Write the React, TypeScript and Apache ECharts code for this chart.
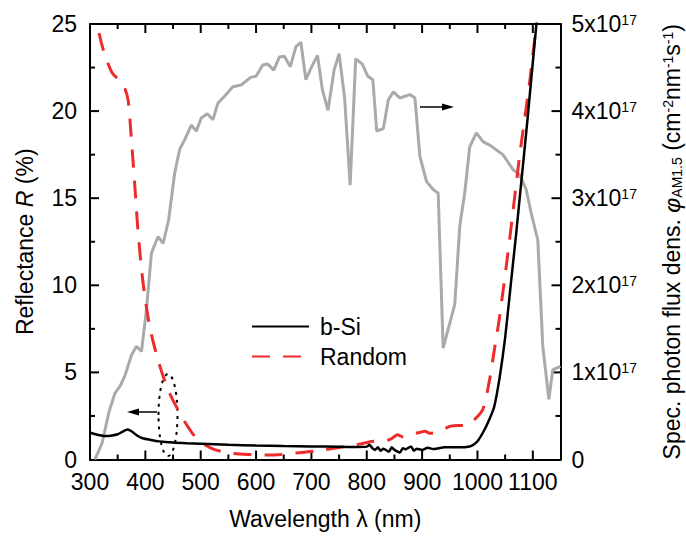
import React, { useEffect, useRef } from "react";
import * as echarts from "echarts";

// b-Si reflectance (left axis, %)
const bSiWavelength = [300, 310, 320, 330, 340, 350, 360, 368, 375, 385, 395, 410, 425, 450, 475, 500, 550, 600, 650, 700, 750, 780, 800, 805, 810, 815, 820, 825, 830, 840, 845, 850, 860, 865, 870, 880, 885, 890, 900, 910, 920, 930, 940, 960, 980, 990, 1000, 1010, 1020, 1030, 1040, 1050, 1060, 1070, 1080, 1090, 1100, 1110];
const bSiReflectance = [1.55, 1.45, 1.38, 1.35, 1.38, 1.45, 1.62, 1.72, 1.62, 1.38, 1.22, 1.12, 1.04, 0.97, 0.93, 0.9, 0.84, 0.8, 0.77, 0.75, 0.73, 0.72, 0.74, 0.85, 0.65, 0.55, 0.7, 0.5, 0.62, 0.45, 0.7, 0.55, 0.4, 0.65, 0.58, 0.75, 0.5, 0.62, 0.55, 0.68, 0.6, 0.65, 0.7, 0.7, 0.72, 0.8, 1.05, 1.55, 2.2, 3.0, 4.7, 7.0, 10.0, 13.0, 16.2, 19.4, 22.8, 26.2];

// Random-textured reflectance (left axis, %)
const randomWavelength = [300, 313, 325, 340, 355, 363, 369, 375, 381, 387, 396, 408, 423, 441, 465, 489, 510, 525, 550, 585, 620, 645, 675, 705, 735, 765, 790, 812, 830, 845, 855, 865, 880, 895, 905, 915, 930, 950, 965, 980, 995, 1010, 1022, 1030, 1040, 1058, 1076, 1094, 1106, 1115];
const randomReflectance = [28, 25, 23.4, 22.2, 21.7, 21.3, 20.6, 18.3, 15.7, 13, 10.1, 7.6, 5.7, 4.0, 2.5, 1.34, 0.8, 0.57, 0.38, 0.29, 0.26, 0.29, 0.38, 0.48, 0.62, 0.76, 0.9, 1.05, 1.05, 1.2, 1.42, 1.3, 1.45, 1.55, 1.62, 1.5, 1.6, 1.9, 1.95, 1.95, 2.3, 2.9, 4.6, 6.2, 8.2, 12.6, 17.4, 21.6, 24.85, 27];

// AM1.5 spectral photon flux density (right axis, x10^17 cm^-2 nm^-1 s^-1)
const fluxWavelength = [309, 322, 334, 345, 355, 363, 375, 384, 393, 402, 411, 423, 432, 442, 453, 462, 471, 483, 492, 501, 512, 522, 531, 543, 558, 573, 591, 600, 612, 621, 632, 642, 651, 662, 672, 681, 690, 699, 711, 720, 730, 741, 750, 760, 770, 780, 792, 802, 811, 818, 830, 839, 848, 860, 878, 887, 896, 908, 920, 929, 938, 959, 968, 977, 986, 998, 1010, 1022, 1046, 1064, 1076, 1088, 1097, 1109, 1118, 1129, 1136, 1150];
const fluxE17 = [0, 0.19, 0.54, 0.76, 0.85, 0.96, 1.2, 1.3, 1.24, 1.72, 2.37, 2.56, 2.48, 2.75, 3.29, 3.56, 3.67, 3.84, 3.77, 3.92, 3.97, 3.9, 4.09, 4.17, 4.28, 4.3, 4.39, 4.4, 4.53, 4.54, 4.47, 4.62, 4.63, 4.51, 4.74, 4.79, 4.36, 4.49, 4.64, 4.24, 4.01, 4.47, 4.66, 4.15, 3.15, 4.6, 4.54, 4.4, 4.36, 3.77, 3.8, 4.13, 4.22, 4.15, 4.19, 4.15, 3.48, 3.19, 3.1, 3.06, 1.28, 1.78, 2.68, 3.06, 3.59, 3.75, 3.65, 3.61, 3.5, 3.33, 3.27, 3.1, 2.83, 2.52, 1.3, 0.69, 1.03, 1.07];

// inward tick positions (wavelength in nm, reflectance in %; right axis shares the left axis' positions)
const xMajorTicks = [400, 500, 600, 700, 800, 900, 1000, 1100];
const xMinorTicks = [350, 450, 550, 650, 750, 850, 950, 1050];
const yMajorTicks = [5, 10, 15, 20];
const yMinorTicks = [2.5, 7.5, 12.5, 17.5, 22.5];

const seriesNames = ["b-Si", "Random", "AM1.5"];

const FONT = "'Liberation Sans', Arial, sans-serif";
const FS = 23;
const MAJOR_LEN = 9;
const MINOR_LEN = 5;

const W = 686;
const H = 542;
const GRID = { left: 90, right: 125.5, top: 24, bottom: 82.5 };
const X_MIN = 300;
const X_MAX = 1150;
const Y_MIN = 0;
const Y_MAX = 25;

const pairs = (xs: number[], ys: number[]) => xs.map((x, i) => [x, ys[i]]);

const axisLineStyle = () => ({ show: true, onZero: false, lineStyle: { color: "#000", width: 2 } });
const noTicks = () => ({ show: false });

const annotations: any[] = [
  { type: "line", shape: { x1: 157, y1: 412, x2: 137, y2: 412 }, style: { stroke: "#000", lineWidth: 1.5 } },
  { type: "polygon", shape: { points: [[127, 412], [139, 408.5], [139, 415.5]] }, style: { fill: "#000" } },
  {
    type: "ellipse",
    shape: { cx: 168, cy: 415, rx: 9.5, ry: 41 },
    style: { fill: "none", stroke: "#000", lineWidth: 2, lineDash: [3, 5] },
  },
  { type: "line", shape: { x1: 420, y1: 107, x2: 444, y2: 107 }, style: { stroke: "#000", lineWidth: 1.5 } },
  { type: "polygon", shape: { points: [[454, 107], [442, 103.5], [442, 110.5]] }, style: { fill: "#000" } },
];

// inward ticks on all four sides, mapped with the same linear scale as the grid's axes
function buildTicks(): any[] {
  const left = GRID.left;
  const right = W - GRID.right;
  const top = GRID.top;
  const bottom = H - GRID.bottom;
  const toX = (v: number) => left + ((v - X_MIN) / (X_MAX - X_MIN)) * (right - left);
  const toY = (v: number) => bottom - ((v - Y_MIN) / (Y_MAX - Y_MIN)) * (bottom - top);
  const style = { stroke: "#000", lineWidth: 2 };
  const out: any[] = [];
  const addX = (v: number, len: number) => {
    const x = toX(v);
    out.push({ type: "line", shape: { x1: x, y1: bottom, x2: x, y2: bottom - len }, style });
    out.push({ type: "line", shape: { x1: x, y1: top, x2: x, y2: top + len }, style });
  };
  const addY = (v: number, len: number) => {
    const y = toY(v);
    out.push({ type: "line", shape: { x1: left, y1: y, x2: left + len, y2: y }, style });
    out.push({ type: "line", shape: { x1: right, y1: y, x2: right - len, y2: y }, style });
  };
  xMajorTicks.forEach((v) => addX(v, MAJOR_LEN));
  xMinorTicks.forEach((v) => addX(v, MINOR_LEN));
  yMajorTicks.forEach((v) => addY(v, MAJOR_LEN));
  yMinorTicks.forEach((v) => addY(v, MINOR_LEN));
  return out;
}

export default function App() {
  const ref = useRef<HTMLDivElement>(null);
  useEffect(() => {
    if (!ref.current) return;
    const chart = echarts.init(ref.current, null, { renderer: "svg" });
    const option: any = {
      animation: false,
      backgroundColor: "#fff",
      textStyle: { fontFamily: FONT, color: "#000" },
      grid: {
        show: false,
        left: GRID.left,
        right: GRID.right,
        top: GRID.top,
        bottom: GRID.bottom,
        containLabel: false,
        outerBoundsMode: "none",
      },
      legend: {
        data: [seriesNames[0], seriesNames[1]],
        orient: "vertical",
        left: 246,
        top: 310,
        itemWidth: 57,
        itemHeight: 14,
        itemGap: 7,
        itemStyle: { opacity: 0 },
        textStyle: { fontSize: FS, color: "#000", fontFamily: FONT, padding: [0, 0, 0, 6] },
      },
      xAxis: [
        {
          type: "value",
          min: X_MIN,
          max: X_MAX,
          interval: 100,
          position: "bottom",
          name: "Wavelength λ (nm)",
          nameLocation: "middle",
          nameGap: 48,
          nameTextStyle: { fontSize: FS, color: "#000", fontFamily: FONT },
          axisLine: axisLineStyle(),
          axisTick: noTicks(),
          minorTick: noTicks(),
          splitLine: { show: false },
          axisLabel: {
            show: true,
            fontSize: FS,
            color: "#000",
            fontFamily: FONT,
            margin: 11,
            showMaxLabel: false,
            formatter: (v: number) => String(v),
          },
        },
        {
          type: "value",
          min: X_MIN,
          max: X_MAX,
          interval: 100,
          position: "top",
          axisLine: axisLineStyle(),
          axisTick: noTicks(),
          minorTick: noTicks(),
          splitLine: { show: false },
          axisLabel: { show: false },
        },
      ],
      yAxis: [
        {
          type: "value",
          min: Y_MIN,
          max: Y_MAX,
          interval: 5,
          position: "left",
          name: "Reflectance {i|R} (%)",
          nameLocation: "middle",
          nameRotate: 90,
          nameGap: 54,
          nameTextStyle: {
            fontSize: FS,
            color: "#000",
            fontFamily: FONT,
            rich: { i: { fontStyle: "italic", fontSize: FS, fontFamily: FONT, color: "#000" } },
          },
          axisLine: axisLineStyle(),
          axisTick: noTicks(),
          minorTick: noTicks(),
          splitLine: { show: false },
          axisLabel: { show: true, fontSize: FS, color: "#000", fontFamily: FONT, margin: 13 },
        },
        {
          type: "value",
          min: 0,
          max: 5,
          interval: 1,
          position: "right",
          name: "Spec. photon flux dens. {i|φ}{sub|AM1.5} (cm{sup|-2}nm{sup|-1}s{sup|-1})",
          nameLocation: "middle",
          nameRotate: 90,
          nameGap: 100,
          nameTextStyle: {
            fontSize: FS,
            color: "#000",
            fontFamily: FONT,
            rich: {
              i: { fontStyle: "italic", fontSize: FS, fontFamily: FONT, color: "#000" },
              sub: { fontSize: 14, fontFamily: FONT, color: "#000", verticalAlign: "bottom" },
              sup: { fontSize: 14, fontFamily: FONT, color: "#000", verticalAlign: "top" },
            },
          },
          axisLine: axisLineStyle(),
          axisTick: noTicks(),
          minorTick: noTicks(),
          splitLine: { show: false },
          axisLabel: {
            show: true,
            fontSize: FS,
            color: "#000",
            fontFamily: FONT,
            margin: 11,
            formatter: (v: number) => (v === 0 ? "0" : `{m|${v}x10}{s|17}`),
            rich: {
              m: { fontSize: FS, fontFamily: FONT, color: "#000" },
              s: { fontSize: 14, fontFamily: FONT, color: "#000", verticalAlign: "top" },
            },
          },
        },
      ],
      series: [
        {
          name: seriesNames[2],
          type: "line",
          xAxisIndex: 0,
          yAxisIndex: 1,
          data: pairs(fluxWavelength, fluxE17),
          symbol: "none",
          showSymbol: false,
          lineStyle: { color: "#aaaaaa", width: 3 },
          itemStyle: { color: "#aaaaaa" },
          z: 1,
        },
        {
          name: seriesNames[1],
          type: "line",
          xAxisIndex: 0,
          yAxisIndex: 0,
          data: pairs(randomWavelength, randomReflectance),
          symbol: "none",
          showSymbol: false,
          smooth: 0.25,
          lineStyle: { color: "#ee2b2b", width: 3, type: [18, 13] },
          itemStyle: { color: "#ee2b2b" },
          z: 2,
        },
        {
          name: seriesNames[0],
          type: "line",
          xAxisIndex: 0,
          yAxisIndex: 0,
          data: pairs(bSiWavelength, bSiReflectance),
          symbol: "none",
          showSymbol: false,
          smooth: 0.2,
          lineStyle: { color: "#000", width: 2.5 },
          itemStyle: { color: "#000" },
          z: 3,
        },
      ],
      graphic: [...annotations, ...buildTicks()],
    };
    chart.setOption(option);
    return () => chart.dispose();
  }, []);
  return (
    <div
      ref={ref}
      style={{ position: "fixed", left: 0, top: 0, width: W, height: H, background: "#fff" }}
    />
  );
}
